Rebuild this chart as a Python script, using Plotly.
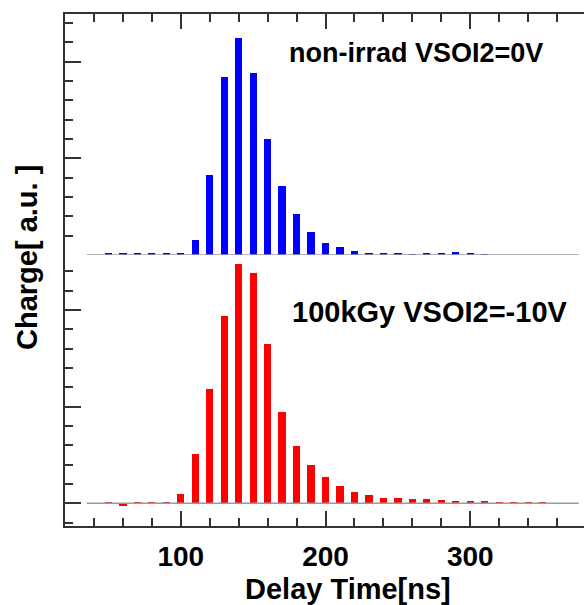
import plotly.graph_objects as go

# ---- data ----
delay_time = [50, 60, 70, 80, 90, 100, 110, 120, 130, 140, 150, 160, 170, 180, 190, 200,
              210, 220, 230, 240, 250, 260, 270, 280, 290, 300, 310, 320, 330, 340, 350]
charge_nonirrad = [0.12, 0.12, 0.09, 0.09, 0.09, 0.09, 0.78, 4.12, 9.22, 11.21, 9.43, 6.0,
                   3.57, 2.10, 1.21, 0.64, 0.41, 0.22, 0.12, 0.12, 0.09, 0.03, 0.09, 0.12,
                   0.17, 0.12, 0.03, -0.06, -0.06, -0.06, -0.10]
charge_100kgy = [0.02, -0.12, 0.02, 0.02, 0.02, 0.48, 2.53, 5.91, 9.69, 12.36, 11.93, 8.24,
                 4.72, 2.98, 1.97, 1.34, 0.91, 0.60, 0.45, 0.29, 0.26, 0.22, 0.22, 0.16,
                 0.14, 0.14, 0.14, 0.05, 0.02, 0.02, 0.07]
hist_range = [35, 375]
x_tick_values = [100, 200, 300]
x_tick_labels = ["100", "200", "300"]
label_top = "non-irrad VSOI2=0V"
label_bottom = "100kGy VSOI2=-10V"
x_title = "Delay Time[ns]"
y_title = "Charge[ a.u. ]"

# ---- layout geometry (pixels) ----
W, H = 584, 605
L, R, T, B = 65, 0, 14, 79
plot_w = W - L - R
plot_h = H - T - B
split_px = 255  # boundary between panels (from top)
split_frac = (T + plot_h - split_px) / plot_h

FONT = "Liberation Sans, Arial, sans-serif"
AXC = "#333333"


def px_to_paper(px, py):
    return (px - L) / plot_w, (T + plot_h - py) / plot_h


fig = go.Figure()

# baselines (histogram outline at zero)
for ya, xa in (("y", "x"), ("y2", "x2")):
    fig.add_trace(go.Scatter(x=hist_range, y=[0, 0], mode="lines",
                             line=dict(color="#9a9a9a", width=1.5),
                             xaxis=xa, yaxis=ya, hoverinfo="skip", showlegend=False))

fig.add_trace(go.Bar(x=delay_time, y=charge_100kgy, width=5, marker=dict(color="#ff0000", line=dict(width=0)),
                     xaxis="x", yaxis="y", showlegend=False))
fig.add_trace(go.Bar(x=delay_time, y=charge_nonirrad, width=5, marker=dict(color="#0000ff", line=dict(width=0)),
                     xaxis="x2", yaxis="y2", showlegend=False))

xrange = [20, 378.6]
common_x = dict(range=xrange, showgrid=False, zeroline=False, showline=True, linecolor=AXC, linewidth=2,
                ticks="inside", ticklen=15, tickwidth=1.5, tickcolor=AXC,
                tickmode="array", tickvals=x_tick_values, ticktext=x_tick_labels,
                minor=dict(ticks="inside", ticklen=8, tickwidth=1.5, tickcolor=AXC, dtick=20, tick0=0,
                           showgrid=False))
common_y = dict(showgrid=False, zeroline=False, showline=True, linecolor=AXC, linewidth=2,
                ticks="inside", ticklen=16, tickwidth=1.5, tickcolor=AXC,
                tick0=0, dtick=5, showticklabels=False,
                minor=dict(ticks="inside", ticklen=8, tickwidth=1.5, tickcolor=AXC, dtick=1, tick0=0,
                           showgrid=False))

fig.update_layout(
    width=W, height=H,
    margin=dict(l=L, r=R, t=T, b=B, pad=0),
    paper_bgcolor="white", plot_bgcolor="white",
    bargap=0,
    xaxis=dict(**common_x, anchor="y", side="bottom", showticklabels=True,
               tickfont=dict(family=FONT, size=28, color="black", weight=700),
               ticklabelstandoff=4),
    xaxis2=dict(**common_x, anchor="y2", side="top", matches="x", showticklabels=False),
    yaxis=dict(**common_y, domain=[0, split_frac], range=[-1.174, 12.845], anchor="x"),
    yaxis2=dict(**common_y, domain=[split_frac, 1], range=[0, 12.47], anchor="x2"),
)

ann = []
ax, ay = px_to_paper(415.7, 53)
ann.append(dict(text=label_top, x=ax, y=ay, xref="paper", yref="paper", showarrow=False,
                xanchor="center", yanchor="middle",
                font=dict(family=FONT, size=27, color="black", weight=700)))
ax, ay = px_to_paper(430, 312)
ann.append(dict(text=label_bottom, x=ax, y=ay, xref="paper", yref="paper", showarrow=False,
                xanchor="center", yanchor="middle",
                font=dict(family=FONT, size=29, color="black", weight=700)))
ax, ay = px_to_paper(348, 589)
ann.append(dict(text=x_title, x=ax, y=ay, xref="paper", yref="paper", showarrow=False,
                xanchor="center", yanchor="middle",
                font=dict(family=FONT, size=29, color="black", weight=700)))
ax, ay = px_to_paper(27, 258)
ann.append(dict(text=y_title, x=ax, y=ay, xref="paper", yref="paper", showarrow=False,
                xanchor="center", yanchor="middle", textangle=-90,
                font=dict(family=FONT, size=29, color="black", weight=700)))
fig.update_layout(annotations=ann)

fig.write_html("out.html", config={"displayModeBar": False},
               post_script="document.body.style.margin='0';document.body.style.padding='0';")
